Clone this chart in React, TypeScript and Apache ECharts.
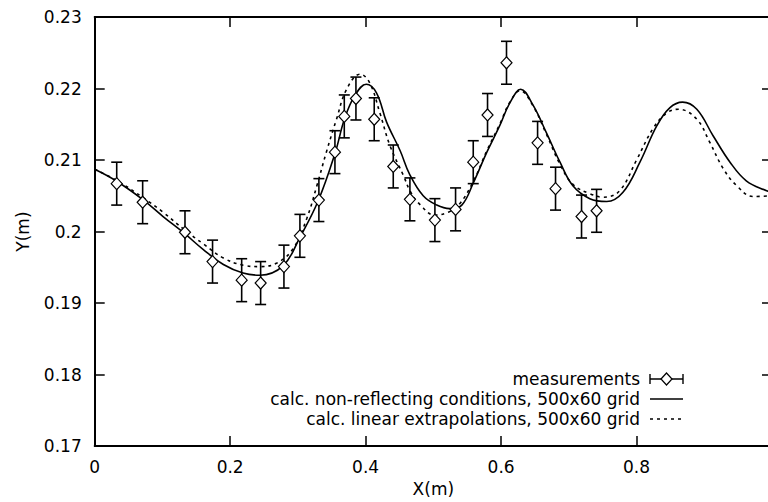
import React, { useEffect, useRef } from "react";
import * as echarts from "echarts";

// Measurements (x, y, half error bar)
const measX = [0.0325, 0.0708, 0.1333, 0.174, 0.217, 0.245, 0.2794, 0.303, 0.331, 0.3547, 0.3685, 0.3857, 0.4127, 0.4408, 0.4654, 0.5023, 0.5328, 0.5589, 0.58, 0.608, 0.6539, 0.6804, 0.7188, 0.741];
const measY = [0.2067, 0.2041, 0.1999, 0.1958, 0.1932, 0.1928, 0.1951, 0.1994, 0.2044, 0.2111, 0.2161, 0.2186, 0.2157, 0.2091, 0.2045, 0.2016, 0.2031, 0.2097, 0.2163, 0.2236, 0.2124, 0.206, 0.2021, 0.2029];
const measErr = [0.003, 0.003, 0.003, 0.003, 0.003, 0.003, 0.003, 0.003, 0.003, 0.003, 0.003, 0.003, 0.003, 0.003, 0.003, 0.003, 0.003, 0.003, 0.003, 0.003, 0.003, 0.003, 0.003, 0.003];

// calc. non-reflecting conditions (solid)
const solidX = [0, 0.033, 0.072, 0.101, 0.133, 0.16, 0.19, 0.219, 0.244, 0.278, 0.303, 0.33, 0.355, 0.369, 0.384, 0.401, 0.416, 0.431, 0.451, 0.465, 0.485, 0.505, 0.524, 0.542, 0.559, 0.579, 0.598, 0.613, 0.629, 0.647, 0.667, 0.687, 0.706, 0.731, 0.756, 0.78, 0.805, 0.83, 0.849, 0.868, 0.889, 0.913, 0.938, 0.962, 0.992, 1.0];
const solidY = [0.2087, 0.207, 0.2044, 0.2021, 0.1997, 0.1975, 0.1954, 0.1942, 0.1939, 0.1952, 0.1992, 0.2043, 0.211, 0.2158, 0.219, 0.2206, 0.2194, 0.2153, 0.2113, 0.208, 0.205, 0.2037, 0.2032, 0.2037, 0.2068, 0.2111, 0.2148, 0.218, 0.2199, 0.2177, 0.2138, 0.2097, 0.2064, 0.2046, 0.2042, 0.2055, 0.2097, 0.2148, 0.2173, 0.2181, 0.2171, 0.2134, 0.2097, 0.2071, 0.2057, 0.2055];

// calc. linear extrapolations (dashed)
const dashX = [0, 0.033, 0.072, 0.101, 0.133, 0.16, 0.19, 0.219, 0.244, 0.269, 0.293, 0.313, 0.328, 0.342, 0.357, 0.372, 0.392, 0.406, 0.421, 0.436, 0.456, 0.466, 0.48, 0.502, 0.522, 0.539, 0.559, 0.579, 0.598, 0.613, 0.628, 0.647, 0.667, 0.687, 0.706, 0.731, 0.751, 0.775, 0.8, 0.825, 0.845, 0.862, 0.889, 0.908, 0.928, 0.948, 0.972, 1.0];
const dashY = [0.2087, 0.2071, 0.2047, 0.2027, 0.2002, 0.1983, 0.1963, 0.1953, 0.1951, 0.1956, 0.1976, 0.2018, 0.2064, 0.2111, 0.2157, 0.2199, 0.222, 0.2208, 0.2166, 0.212, 0.2078, 0.2056, 0.2038, 0.2023, 0.2027, 0.2039, 0.207, 0.2113, 0.215, 0.2181, 0.2197, 0.2176, 0.2136, 0.2094, 0.2066, 0.2053, 0.2048, 0.2057, 0.21, 0.2145, 0.2166, 0.2171, 0.2157, 0.2125, 0.2088, 0.2064, 0.2049, 0.205];

const legendLabels = [
  "measurements",
  "calc. non-reflecting conditions, 500x60 grid",
  "calc. linear extrapolations, 500x60 grid",
];

const FONT = "'DejaVu Sans', 'Liberation Sans', Arial, sans-serif";
const FS = 17;

export default function App() {
  const ref = useRef<HTMLDivElement>(null);
  useEffect(() => {
    if (!ref.current) return;
    const chart = echarts.init(ref.current, undefined, { renderer: "svg" });
    const measData = measX.map((x, i) => [x, measY[i], measErr[i]]);
    const solidData = solidX.map((x, i) => [x, solidY[i]]);
    const dashData = dashX.map((x, i) => [x, dashY[i]]);
    const axisLine = { show: true, onZero: false, lineStyle: { color: "#000", width: 2 } };
    const tick = { show: true, inside: true, length: 10, lineStyle: { color: "#000", width: 1.5 } };
    const labelStyle = { color: "#000", fontSize: FS, fontFamily: FONT };
    const fmt = (v: number) => String(parseFloat(Number(v).toFixed(3)));
    const legX = 640;
    const sampleL = 650;
    const sampleR = 683;
    const rows = [379, 399, 419];
    const ls = { stroke: "#000", lineWidth: 1.4 };
    const mid = (sampleL + sampleR) / 2;
    const graphics: any[] = [];
    legendLabels.forEach((t, i) => {
      graphics.push({
        type: "text",
        x: legX,
        y: rows[i],
        style: { text: t, fill: "#000", font: `${FS}px ${FONT}`, align: "right", verticalAlign: "middle" },
      });
    });
    graphics.push(
      { type: "line", shape: { x1: sampleL, y1: rows[0], x2: sampleR, y2: rows[0] }, style: ls },
      { type: "line", shape: { x1: sampleL, y1: rows[0] - 5, x2: sampleL, y2: rows[0] + 5 }, style: ls },
      { type: "line", shape: { x1: sampleR, y1: rows[0] - 5, x2: sampleR, y2: rows[0] + 5 }, style: ls },
      { type: "polygon", shape: { points: [[mid - 5.5, rows[0]], [mid, rows[0] - 6], [mid + 5.5, rows[0]], [mid, rows[0] + 6]] }, style: { fill: "#fff", stroke: "#000", lineWidth: 1.2 } },
      { type: "line", shape: { x1: sampleL, y1: rows[1], x2: sampleR, y2: rows[1] }, style: ls },
      { type: "line", shape: { x1: sampleL, y1: rows[2], x2: sampleR, y2: rows[2] }, style: { ...ls, lineDash: [3, 4] } }
    );
    chart.setOption({
      animation: false,
      backgroundColor: "#fff",
      grid: { left: 94.7, top: 17, right: 18, bottom: 53, containLabel: false },
      xAxis: [
        {
          type: "value", min: 0, max: 1, interval: 0.2, position: "bottom",
          axisLine, axisTick: tick, splitLine: { show: false },
          axisLabel: { ...labelStyle, margin: 12, showMaxLabel: false, formatter: fmt },
          name: "X(m)", nameLocation: "middle", nameGap: 33, nameTextStyle: labelStyle,
        },
        {
          type: "value", min: 0, max: 1, interval: 0.2, position: "top",
          axisLine, axisTick: tick, splitLine: { show: false }, axisLabel: { show: false },
        },
      ],
      yAxis: [
        {
          type: "value", min: 0.17, max: 0.23, interval: 0.01, position: "left",
          axisLine, axisTick: tick, splitLine: { show: false },
          axisLabel: { ...labelStyle, margin: 13, formatter: fmt },
          name: "Y(m)", nameLocation: "middle", nameGap: 63, nameRotate: 90, nameTextStyle: labelStyle,
        },
        {
          type: "value", min: 0.17, max: 0.23, interval: 0.01, position: "right",
          axisLine, axisTick: tick, splitLine: { show: false }, axisLabel: { show: false },
        },
      ],
      graphic: graphics,
      series: [
        {
          type: "line", name: legendLabels[1], data: solidData, smooth: 0.4, showSymbol: false,
          lineStyle: { color: "#000", width: 1.6 }, z: 2,
        },
        {
          type: "line", name: legendLabels[2], data: dashData, smooth: 0.4, showSymbol: false,
          lineStyle: { color: "#000", width: 1.6, type: [3, 4] }, z: 2,
        },
        {
          type: "custom", name: "errorbars", data: measData, z: 3,
          renderItem: (params: any, api: any) => {
            const x = api.value(0);
            const y = api.value(1);
            const e = api.value(2);
            const top = api.coord([x, y + e]);
            const bot = api.coord([x, y - e]);
            const hw = 5.5;
            const st = { stroke: "#000", lineWidth: 1.6 };
            return {
              type: "group",
              children: [
                { type: "line", shape: { x1: top[0], y1: top[1], x2: bot[0], y2: bot[1] }, style: st },
                { type: "line", shape: { x1: top[0] - hw, y1: top[1], x2: top[0] + hw, y2: top[1] }, style: st },
                { type: "line", shape: { x1: bot[0] - hw, y1: bot[1], x2: bot[0] + hw, y2: bot[1] }, style: st },
              ],
            };
          },
        },
        {
          type: "scatter", name: legendLabels[0], data: measData.map((d) => [d[0], d[1]]),
          symbol: "diamond", symbolSize: [11, 12], z: 4,
          itemStyle: { color: "#ffffff", opacity: 1, borderColor: "#000", borderWidth: 1.2 },
          emphasis: { disabled: true },
        },
      ],
    });
    return () => chart.dispose();
  }, []);
  return (
    <div
      ref={ref}
      style={{ position: "fixed", left: 0, top: 0, width: 790, height: 502, background: "#fff" }}
    />
  );
}
